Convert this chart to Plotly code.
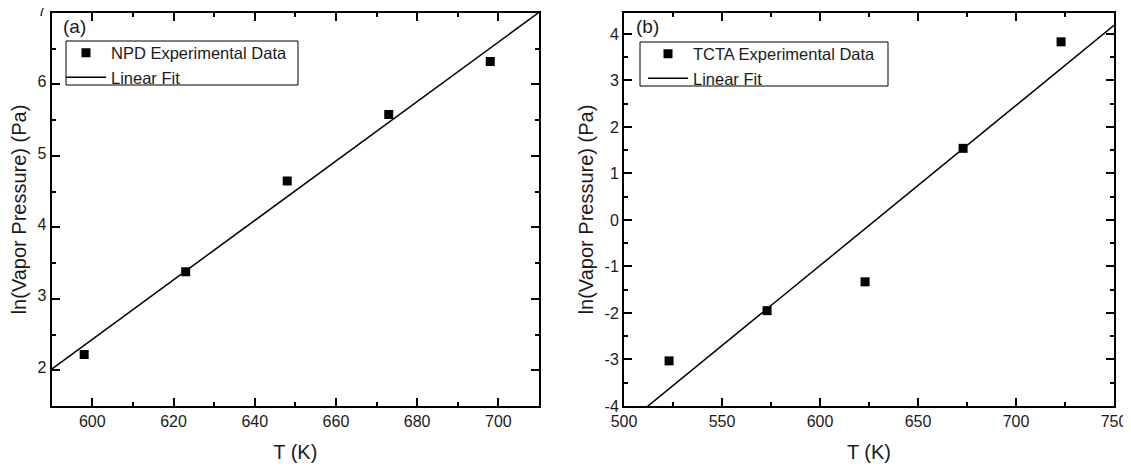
import numpy as np
import plotly.graph_objects as go

# ---- data ----
npd_T = [598, 623, 648, 673, 698]
npd_lnP = [2.22, 3.38, 4.65, 5.58, 6.32]
tcta_T = [523, 573, 623, 673, 723]
tcta_lnP = [-3.03, -1.95, -1.33, 1.54, 3.83]

npd_xrange = [590, 710]
npd_yrange = [1.5, 7]
npd_xticks = [600, 620, 640, 660, 680, 700]
npd_yticks = [2, 3, 4, 5, 6, 7]

tcta_xrange = [500, 750]
tcta_yrange = [-4, 4.45]
tcta_xticks = [500, 550, 600, 650, 700, 750]
tcta_yticks = [-4, -3, -2, -1, 0, 1, 2, 3, 4]

FONT = "Arial, Liberation Sans, sans-serif"
TXT = "#1a1a1a"

# page has an 8px body margin: lay out in reference-pixel coordinates minus that offset
OFF = 8
W, H = 1131 - OFF, 470 - OFF
TOP, BOT = 13, 406          # plot area top/bottom in reference pixels


def px(x):
    return (x - OFF) / W


def py(y):
    return (BOT - y) / (BOT - TOP)


def fit_line(x, y, xr):
    k, b = np.polyfit(x, y, 1)
    xs = np.array(xr, dtype=float)
    return xs, k * xs + b


fig = go.Figure()

fx, fy = fit_line(npd_T, npd_lnP, npd_xrange)
fig.add_trace(go.Scatter(x=npd_T, y=npd_lnP, mode="markers", name="NPD Experimental Data",
                         marker=dict(symbol="square", size=9, color="black"),
                         xaxis="x", yaxis="y", legend="legend"))
fig.add_trace(go.Scatter(x=fx, y=fy, mode="lines", name="Linear Fit",
                         line=dict(color="black", width=1.5),
                         xaxis="x", yaxis="y", legend="legend"))

gx, gy = fit_line(tcta_T, tcta_lnP, tcta_xrange)
fig.add_trace(go.Scatter(x=tcta_T, y=tcta_lnP, mode="markers", name="TCTA Experimental Data",
                         marker=dict(symbol="square", size=9, color="black"),
                         xaxis="x2", yaxis="y2", legend="legend2"))
fig.add_trace(go.Scatter(x=gx, y=gy, mode="lines", name="Linear Fit",
                         line=dict(color="black", width=1.5),
                         xaxis="x2", yaxis="y2", legend="legend2"))


def axis(domain, rng, ticks, minor_dtick, title, anchor, standoff):
    return dict(
        domain=domain, range=rng, anchor=anchor, automargin=False,
        tickmode="array", tickvals=ticks, ticktext=[str(t) for t in ticks],
        ticklabeloverflow="allow",
        ticks="inside", ticklen=8, tickwidth=1.5, tickcolor="black",
        minor=dict(dtick=minor_dtick, tick0=0, ticks="inside", ticklen=4, tickwidth=1.5,
                   tickcolor="black"),
        showline=True, linecolor="black", linewidth=2, mirror="ticks",
        showgrid=False, zeroline=False,
        tickfont=dict(family=FONT, size=16, color=TXT),
        title=dict(text=title, font=dict(family=FONT, size=20, color=TXT), standoff=standoff),
    )


legend_style = dict(xanchor="left", yanchor="top", borderwidth=0,
                    bgcolor="rgba(0,0,0,0)",
                    font=dict(family=FONT, size=16.5, color=TXT), tracegroupgap=0,
                    itemwidth=40)

fig.update_layout(
    width=W, height=H,
    margin=dict(l=0, r=0, t=TOP - OFF, b=H - (BOT - OFF)),
    paper_bgcolor="white", plot_bgcolor="white",
    showlegend=True,
    xaxis=axis([px(51.7), px(539)], npd_xrange, npd_xticks, 10, "T (K)", "y", 16),
    yaxis=axis([0, 1], npd_yrange, npd_yticks, 0.5, "ln(Vapor Pressure) (Pa)", "x", 6),
    xaxis2=axis([px(624), px(1114)], tcta_xrange, tcta_xticks, 25, "T (K)", "y2", 16),
    yaxis2=axis([0, 1], tcta_yrange, tcta_yticks, 0.5, "ln(Vapor Pressure) (Pa)", "x2", 6),
    legend=dict(x=px(61), y=py(35.5), **legend_style),
    legend2=dict(x=px(643), y=py(36.5), **legend_style),
    shapes=[
        dict(type="rect", xref="paper", yref="paper", x0=px(66), x1=px(298),
             y0=py(85), y1=py(41), line=dict(color="black", width=1),
             fillcolor="white", layer="below"),
        dict(type="rect", xref="paper", yref="paper", x0=px(640), x1=px(888),
             y0=py(86), y1=py(42), line=dict(color="black", width=1),
             fillcolor="white", layer="below"),
    ],
    annotations=[
        dict(text="(a)", x=px(61), y=py(26.5), xref="paper", yref="paper",
             xanchor="left", yanchor="middle", showarrow=False,
             font=dict(family=FONT, size=19, color=TXT)),
        dict(text="(b)", x=px(634), y=py(26.5), xref="paper", yref="paper",
             xanchor="left", yanchor="middle", showarrow=False,
             font=dict(family=FONT, size=19, color=TXT)),
    ],
)

# nudge the left y tick labels down slightly so the top "7" is not clipped at the page edge
fig.update_layout(yaxis_ticklabelshift=-3)

fig.write_html("out.html")
